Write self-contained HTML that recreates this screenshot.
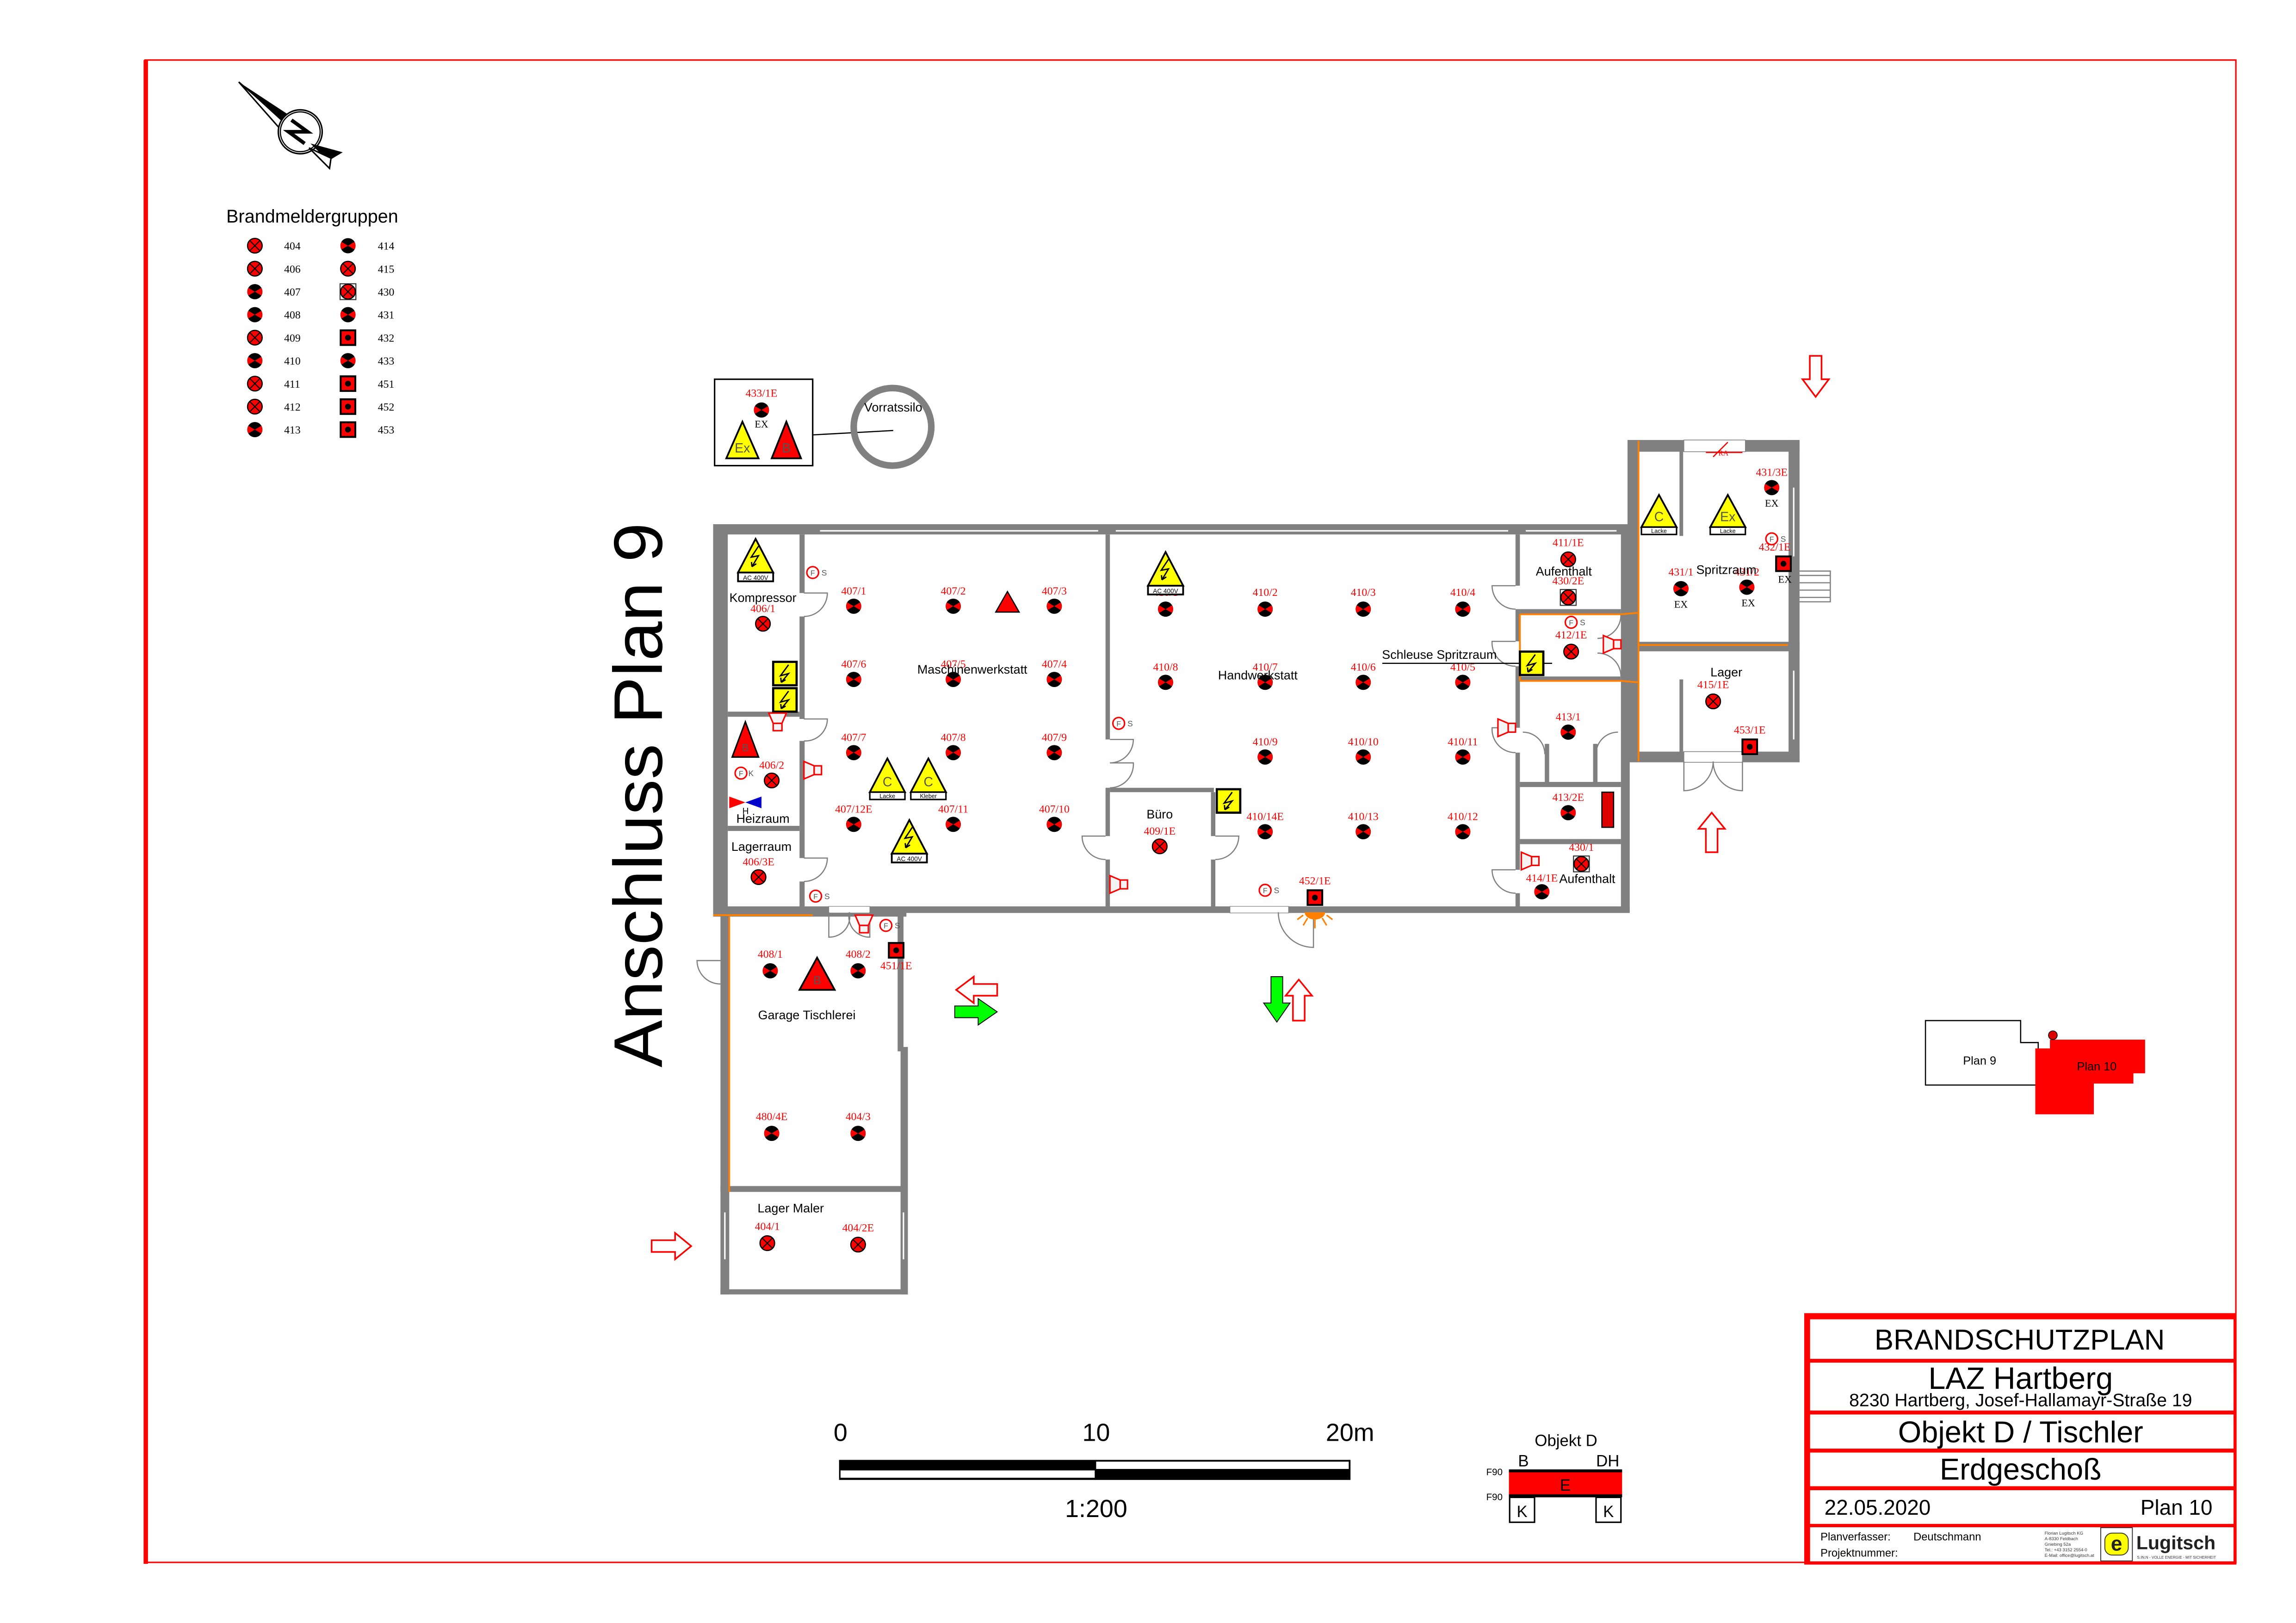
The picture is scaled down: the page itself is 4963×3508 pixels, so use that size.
<!DOCTYPE html>
<html><head><meta charset="utf-8"><style>html,body{margin:0;padding:0;background:#fff}svg{display:block}</style></head><body>
<svg xmlns="http://www.w3.org/2000/svg" width="4963" height="3508" viewBox="0 0 1568 1108.4" font-family="Liberation Sans, sans-serif">
<defs>
<g id="a"><circle r="5" fill="#f00" stroke="#000" stroke-width=".8"/><path d="M-3.5-3.5L3.5 3.5M3.5-3.5L-3.5 3.5" stroke="#000" stroke-width=".7"/></g>
<g id="b"><circle r="5.2" fill="#000"/><path d="M0 0L-4.4-2.6A5.1 5.1 0 0 0-4.4 2.6ZM0 0L4.4-2.6A5.1 5.1 0 0 1 4.4 2.6Z" fill="#f00"/></g>
<g id="c"><rect x="-5" y="-5" width="10" height="10" fill="#f00" stroke="#000" stroke-width="1.3"/><circle r="2" fill="#000"/></g>
<g id="d"><rect x="-5.4" y="-5.4" width="10.8" height="10.8" fill="none" stroke="#333" stroke-width=".7"/><use href="#a"/></g>
<g id="yb"><rect x="-8" y="-8" width="16" height="16" fill="#ff0" stroke="#000" stroke-width="1.5"/><path d="M2.5-6L-3 1.5L2.5 0L-2.5 6M-2.5 6L-2.8 2.8M-2.5 6L0.5 4.2" fill="none" stroke="#000" stroke-width=".9"/></g>
<g id="hn"><path d="M-7-6L0-3V3L-7 6Z" fill="#f4f4f4" stroke="#f00" stroke-width="1"/><rect x="0" y="-3" width="5" height="6" fill="#f4f4f4" stroke="#f00" stroke-width="1"/></g>
<g id="f"><circle r="4" fill="#fff" stroke="#f00" stroke-width="1"/><text y="2" font-size="5" text-anchor="middle" fill="#555">F</text></g>
<g id="ac"><path d="M0-13L12 10H-12Z" fill="#ff0" stroke="#000" stroke-width="1.2"/><path d="M2-8L-3-0.5L2-1.5L-2.5 6M-2.5 6L-2.8 2.8M-2.5 6L0.5 4" fill="none" stroke="#000" stroke-width=".9"/><rect x="-12" y="10" width="24" height="6" fill="#fff" stroke="#000" stroke-width="1.2"/><text y="15" font-size="4.3" text-anchor="middle">AC 400V</text></g>
</defs>

<rect x="99" y="41" width="1428" height="1026" fill="none" stroke="#f00" stroke-width="1"/>
<rect x="98" y="41" width="3" height="1027" fill="#f00"/>

<g>
<path d="M163 56L198 86L193 90Z" fill="#fff" stroke="#000" stroke-width="1"/>
<path d="M163 56L201 81L197 87Z" fill="#000"/>
<circle cx="205" cy="90" r="15" fill="#fff" stroke="#000" stroke-width="1"/>
<circle cx="205" cy="90" r="13.6" fill="none" stroke="#000" stroke-width="0.8"/>
<path d="M212 98L234 104L224 110Z" fill="#000"/>
<path d="M211 101L225 115L226 108Z" fill="#fff" stroke="#000" stroke-width="1"/>
<path d="M199 82L210 90L197 90L208 98" fill="none" stroke="#000" stroke-width="2.5"/>
</g>

<text x="154.5" y="152" font-size="12.5">Brandmeldergruppen</text>
<g font-family="Liberation Serif, serif" font-size="7.5">
<use href="#a" x="174" y="167.8"/><text x="194" y="170.5">404</text>
<use href="#a" x="174" y="183.5"/><text x="194" y="186.2">406</text>
<use href="#b" x="174" y="199.2"/><text x="194" y="201.9">407</text>
<use href="#b" x="174" y="214.9"/><text x="194" y="217.6">408</text>
<use href="#a" x="174" y="230.6"/><text x="194" y="233.3">409</text>
<use href="#b" x="174" y="246.3"/><text x="194" y="249">410</text>
<use href="#a" x="174" y="262"/><text x="194" y="264.7">411</text>
<use href="#a" x="174" y="277.7"/><text x="194" y="280.4">412</text>
<use href="#b" x="174" y="293.4"/><text x="194" y="296.1">413</text>
<use href="#b" x="237.6" y="167.8"/><text x="258" y="170.5">414</text>
<use href="#a" x="237.6" y="183.5"/><text x="258" y="186.2">415</text>
<use href="#d" x="237.6" y="199.2"/><text x="258" y="201.9">430</text>
<use href="#b" x="237.6" y="214.9"/><text x="258" y="217.6">431</text>
<use href="#c" x="237.6" y="230.6"/><text x="258" y="233.3">432</text>
<use href="#b" x="237.6" y="246.3"/><text x="258" y="249">433</text>
<use href="#c" x="237.6" y="262"/><text x="258" y="264.7">451</text>
<use href="#c" x="237.6" y="277.7"/><text x="258" y="280.4">452</text>
<use href="#c" x="237.6" y="293.4"/><text x="258" y="296.1">453</text>
</g>

<rect x="488" y="259" width="67" height="59" fill="#fff" stroke="#000" stroke-width="1"/>
<text x="520" y="271" font-family="Liberation Serif, serif" font-size="7.5" fill="#f00" text-anchor="middle">433/1E</text>
<use href="#b" x="520" y="280"/>
<text x="520" y="292" font-family="Liberation Serif, serif" font-size="7" text-anchor="middle">EX</text>
<path d="M507 288L518 313H496Z" fill="#ff0" stroke="#000" stroke-width="1.2"/>
<text x="507" y="309" font-size="9" fill="#555" text-anchor="middle">Ex</text>
<path d="M537 288L547 313H527Z" fill="#f00" stroke="#000" stroke-width="1.2"/>
<text x="537" y="309" font-size="9" fill="#555" text-anchor="middle">B</text>
<path d="M555 297L610 294" stroke="#000" stroke-width=".8"/>
<circle cx="609.5" cy="291.5" r="26.5" fill="none" stroke="#808080" stroke-width="4.5"/>
<text x="610" y="281" font-size="8.5" text-anchor="middle">Vorratssilo</text>

<text transform="translate(452 543) rotate(-90)" font-size="47" text-anchor="middle" textLength="372" lengthAdjust="spacingAndGlyphs">Anschluss Plan 9</text>

<g fill="#808080">
<rect x="487" y="358" width="626" height="7"/>
<rect x="487" y="358" width="10" height="267"/>
<rect x="546" y="365" width="3.5" height="40"/>
<rect x="546" y="421" width="3.5" height="70"/>
<rect x="546" y="506" width="3.5" height="80"/>
<rect x="546" y="602" width="3.5" height="20"/>
<rect x="497" y="486" width="49" height="3.5"/>
<rect x="497" y="564" width="49" height="3.5"/>
<rect x="487" y="619" width="626" height="4.5"/>
<rect x="755" y="365" width="3" height="140"/>
<rect x="755" y="538" width="3" height="33"/>
<rect x="755" y="587" width="3" height="33"/>
<rect x="758" y="538" width="71" height="3"/>
<rect x="827" y="541" width="3" height="30"/>
<rect x="827" y="587" width="3" height="33"/>
<rect x="1035" y="365" width="3" height="35"/>
<rect x="1035" y="416" width="3" height="22"/>
<rect x="1035" y="455" width="3" height="42"/>
<rect x="1035" y="514" width="3" height="80"/>
<rect x="1035" y="610" width="3" height="10"/>
<rect x="1107" y="361" width="6" height="262"/>
<rect x="1038" y="416" width="69" height="3.5"/>
<rect x="1038" y="462" width="69" height="3.5"/>
<rect x="1038" y="534" width="69" height="3.5"/>
<rect x="1038" y="573" width="69" height="3.5"/>
<rect x="1055" y="508" width="3" height="27"/>
<rect x="1088" y="508" width="3" height="27"/>
<rect x="1111.5" y="300.5" width="117.5" height="8"/>
<rect x="1111.5" y="300.5" width="7.5" height="220"/>
<rect x="1221.5" y="300.5" width="7.5" height="220"/>
<rect x="1111.5" y="513.3" width="117.5" height="7.3"/>
<rect x="1113" y="438.3" width="116" height="6.5"/>
<rect x="1147" y="308" width="2.5" height="58"/>
<rect x="1147" y="464" width="2.5" height="50"/>
<rect x="492" y="622" width="6" height="262"/>
<rect x="487" y="622" width="132" height="4"/>
<rect x="613" y="622" width="4" height="96"/>
<rect x="615" y="715" width="5" height="169"/>
<rect x="492" y="810" width="128" height="4"/>
<rect x="492" y="880.5" width="128" height="3.5"/>
</g>
<g stroke="#fff" stroke-width="1">
<path d="M560 362.5H750M762 362.5H1030M1042 362.5H1104M1150 304H1192M1225 333V380M1225 458V505M495 828V860M617 828V860"/>
</g>
<rect x="1150" y="300.5" width="42" height="8" fill="#fff" stroke="#808080" stroke-width=".5"/>
<rect x="840" y="619" width="40" height="4.5" fill="#fff" stroke="#808080" stroke-width=".4"/>
<rect x="566" y="619" width="28" height="4.5" fill="#fff" stroke="#808080" stroke-width=".4"/>
<rect x="1150" y="513.3" width="40" height="7.3" fill="#fff" stroke="#808080" stroke-width=".5"/>

<g stroke="#ff8000" stroke-width="1.2" fill="none">
<path d="M487 625H555"/>
<path d="M498 626V814"/>
<path d="M1119 301V520"/>
<path d="M1119 440.5H1221"/>
<path d="M1038 419.5H1107L1119 418.5M1038 465H1107L1119 466"/>
<path d="M1038 419.5V465"/>
</g>

<g fill="none" stroke="#808080" stroke-width=".8">
<path d="M549 405H565A16 16 0 0 1 549 421"/>
<path d="M549 491H565A15 15 0 0 1 549 506"/>
<path d="M549 586H565A16 16 0 0 1 549 602"/>
<path d="M758 505H774A16 16 0 0 1 758 521M758 521H774A16 16 0 0 1 758 538"/>
<path d="M755 571H739A16 16 0 0 0 755 587"/>
<path d="M830 571H846A16 16 0 0 1 830 587"/>
<path d="M1035 400H1019A16 16 0 0 0 1035 416"/>
<path d="M1035 438H1019A16 16 0 0 0 1035 455"/>
<path d="M1035 497H1019A16 16 0 0 0 1035 514"/>
<path d="M1035 594H1019A16 16 0 0 0 1035 610"/>
<path d="M566 623V640A14 14 0 0 0 580 623M594 623V640A14 14 0 0 1 580 623"/>
<path d="M492 656H476A16 16 0 0 0 492 672"/>
<path d="M1107 420A16 16 0 0 1 1091 436M1107 462A16 16 0 0 0 1091 446"/>
<path d="M1150 520V540A20 20 0 0 0 1170 520M1190 520V540A20 20 0 0 1 1170 520"/>
<path d="M873 623A24 24 0 0 0 897 647V623"/>
<path d="M1040 500A15 15 0 0 1 1055 515M1105 500A15 15 0 0 0 1090 515"/>
<path d="M1229 390H1250V411H1229M1229 393H1250M1229 398H1250M1229 403H1250M1229 408H1250"/>
</g>

<g font-family="Liberation Serif, serif" font-size="7.5" fill="#f00" text-anchor="middle">
<text x="521" y="418">406/1</text>
<text x="527" y="525">406/2</text>
<text x="518" y="591">406/3E</text>
<text x="583" y="406">407/1</text><text x="651" y="406">407/2</text><text x="720" y="406">407/3</text>
<text x="583" y="456">407/6</text><text x="651" y="456">407/5</text><text x="720" y="456">407/4</text>
<text x="583" y="506">407/7</text><text x="651" y="506">407/8</text><text x="720" y="506">407/9</text>
<text x="583" y="555">407/12E</text><text x="651" y="555">407/11</text><text x="720" y="555">407/10</text>
<text x="796" y="407">410/1</text><text x="864" y="407">410/2</text><text x="931" y="407">410/3</text><text x="999" y="407">410/4</text>
<text x="796" y="458">410/8</text><text x="864" y="458">410/7</text><text x="931" y="458">410/6</text><text x="999" y="458">410/5</text>
<text x="864" y="509">410/9</text><text x="931" y="509">410/10</text><text x="999" y="509">410/11</text>
<text x="864" y="560">410/14E</text><text x="931" y="560">410/13</text><text x="999" y="560">410/12</text>
<text x="792" y="570">409/1E</text>
<text x="898" y="604">452/1E</text>
<text x="1071" y="373">411/1E</text>
<text x="1071" y="399">430/2E</text>
<text x="1073" y="436">412/1E</text>
<text x="1071" y="492">413/1</text>
<text x="1071" y="547">413/2E</text>
<text x="1080" y="581">430/1</text>
<text x="1053" y="602">414/1E</text>
<text x="1210" y="325">431/3E</text>
<text x="1212" y="376">432/1E</text>
<text x="1148" y="393">431/1</text>
<text x="1193" y="393">431/2</text>
<text x="1170" y="470">415/1E</text>
<text x="1195" y="501">453/1E</text>
<text x="1177" y="311" font-size="5">RA</text>
<text x="526" y="654">408/1</text><text x="586" y="654">408/2</text>
<text x="612" y="662">451/1E</text>
<text x="527" y="765">480/4E</text><text x="586" y="765">404/3</text>
<text x="524" y="840">404/1</text><text x="586" y="841">404/2E</text>
</g>
<g>
<use href="#a" x="521" y="426"/>
<use href="#a" x="527" y="533"/>
<use href="#a" x="518" y="599"/>
<use href="#b" x="583" y="414"/><use href="#b" x="651" y="414"/><use href="#b" x="720" y="414"/>
<use href="#b" x="583" y="464"/><use href="#b" x="651" y="464"/><use href="#b" x="720" y="464"/>
<use href="#b" x="583" y="514"/><use href="#b" x="651" y="514"/><use href="#b" x="720" y="514"/>
<use href="#b" x="583" y="563"/><use href="#b" x="651" y="563"/><use href="#b" x="720" y="563"/>
<use href="#b" x="796" y="416"/><use href="#b" x="864" y="416"/><use href="#b" x="931" y="416"/><use href="#b" x="999" y="416"/>
<use href="#b" x="796" y="466"/><use href="#b" x="864" y="466"/><use href="#b" x="931" y="466"/><use href="#b" x="999" y="466"/>
<use href="#b" x="864" y="517"/><use href="#b" x="931" y="517"/><use href="#b" x="999" y="517"/>
<use href="#b" x="864" y="568"/><use href="#b" x="931" y="568"/><use href="#b" x="999" y="568"/>
<use href="#a" x="792" y="578"/>
<use href="#c" x="898" y="613"/>
<use href="#a" x="1071" y="382"/>
<use href="#d" x="1071" y="408"/>
<use href="#a" x="1073" y="445"/>
<use href="#b" x="1071" y="500"/>
<use href="#b" x="1071" y="555"/>
<use href="#d" x="1080" y="590"/>
<use href="#b" x="1053" y="609"/>
<use href="#b" x="1210" y="333"/>
<use href="#c" x="1218" y="385"/>
<use href="#b" x="1148" y="402"/>
<use href="#b" x="1193" y="401"/>
<use href="#a" x="1170" y="479"/>
<use href="#c" x="1195" y="510"/>
<use href="#b" x="526" y="663"/><use href="#b" x="586" y="663"/>
<use href="#c" x="612" y="649"/>
<use href="#b" x="527" y="774"/><use href="#b" x="586" y="774"/>
<use href="#a" x="524" y="849"/><use href="#a" x="586" y="850"/>
</g>

<g font-family="Liberation Serif, serif" font-size="7" text-anchor="middle">
<text x="1210" y="346">EX</text><text x="1219" y="398">EX</text>
<text x="1148" y="415">EX</text><text x="1194" y="414">EX</text>
</g>

<g font-size="8.5" text-anchor="middle">
<text x="521" y="411">Kompressor</text>
<text x="521" y="562">Heizraum</text>
<text x="520" y="581">Lagerraum</text>
<text x="664" y="460">Maschinenwerkstatt</text>
<text x="859" y="464">Handwerkstatt</text>
<text x="792" y="559">Büro</text>
<text x="1068" y="393">Aufenthalt</text>
<text x="1084" y="603">Aufenthalt</text>
<text x="1179" y="392">Spritzraum</text>
<text x="1179" y="462">Lager</text>
<text x="551" y="696">Garage Tischlerei</text>
<text x="540" y="828">Lager Maler</text>
<text x="983" y="450">Schleuse Spritzraum</text>
</g>
<path d="M944 453H1053" stroke="#000" stroke-width=".8"/>

<use href="#ac" x="516" y="381"/>
<use href="#ac" x="796" y="390"/>
<use href="#ac" x="621" y="573"/>
<g>
<path d="M606 518L618 541H594Z" fill="#ff0" stroke="#000" stroke-width="1.2"/><text x="606" y="537" font-size="9" fill="#555" text-anchor="middle">C</text>
<rect x="594" y="541" width="24" height="5" fill="#fff" stroke="#000" stroke-width="1"/><text x="606" y="545" font-size="4" text-anchor="middle">Lacke</text>
<path d="M634 518L646 541H622Z" fill="#ff0" stroke="#000" stroke-width="1.2"/><text x="634" y="537" font-size="9" fill="#555" text-anchor="middle">C</text>
<rect x="622" y="541" width="24" height="5" fill="#fff" stroke="#000" stroke-width="1"/><text x="634" y="545" font-size="4" text-anchor="middle">Kleber</text>
<path d="M1133 338L1145 360H1121Z" fill="#ff0" stroke="#000" stroke-width="1.2"/><text x="1133" y="356" font-size="9" fill="#555" text-anchor="middle">C</text>
<rect x="1121" y="360" width="24" height="5" fill="#fff" stroke="#000" stroke-width="1"/><text x="1133" y="364" font-size="4" text-anchor="middle">Lacke</text>
<path d="M1180 338L1192 360H1168Z" fill="#ff0" stroke="#000" stroke-width="1.2"/><text x="1180" y="356" font-size="9" fill="#555" text-anchor="middle">Ex</text>
<rect x="1168" y="360" width="24" height="5" fill="#fff" stroke="#000" stroke-width="1"/><text x="1180" y="364" font-size="4" text-anchor="middle">Lacke</text>
<path d="M688 404L696 418H680Z" fill="#f00" stroke="#000" stroke-width=".8"/>
<path d="M509 493L518 517H500Z" fill="#f00" stroke="#000" stroke-width="1"/><text x="509" y="513" font-size="7" fill="#555" text-anchor="middle">B</text>
<path d="M558 654L570 676H546Z" fill="#f00" stroke="#000" stroke-width="1.2"/><text x="558" y="672" font-size="8" fill="#555" text-anchor="middle">B</text>
</g>
<use href="#yb" x="536" y="460"/>
<use href="#yb" x="536" y="478"/>
<use href="#yb" x="839" y="547"/>
<path d="M1030 453H1038M1054 453H1060" stroke="#000" stroke-width=".8"/>
<use href="#yb" x="1046" y="453"/>
<rect x="1094" y="541" width="8" height="24" fill="#d00" stroke="#000" stroke-width=".8"/>

<g font-size="5.5" fill="#555">
<use href="#f" x="555" y="391"/><text x="561" y="393">S</text>
<use href="#f" x="506" y="528"/><text x="511" y="530">K</text>
<use href="#f" x="557" y="612"/><text x="563" y="614">S</text>
<use href="#f" x="764" y="494"/><text x="770" y="496">S</text>
<use href="#f" x="864" y="608"/><text x="870" y="610">S</text>
<use href="#f" x="1073" y="425"/><text x="1079" y="427">S</text>
<use href="#f" x="1210" y="368"/><text x="1216" y="370">S</text>
<use href="#f" x="605" y="632"/><text x="611" y="634">S</text>
</g>
<use href="#hn" transform="translate(531 494) rotate(90)"/>
<use href="#hn" transform="translate(556 526)"/>
<use href="#hn" transform="translate(765 604)"/>
<use href="#hn" transform="translate(1030 497)"/>
<use href="#hn" transform="translate(1102 440)"/>
<use href="#hn" transform="translate(1046 588)"/>
<use href="#hn" transform="translate(590 632) rotate(90)"/>
<path d="M498 544L509 548L498 552Z" fill="#f00"/>
<path d="M520 544L509 548L520 552Z" fill="#00c"/>
<text x="507" y="556" font-size="6">H</text>
<g stroke="#ff8000" stroke-width="1"><path d="M898 628V634M893 627L890 632M903 627L906 632M890 625L886 628M906 625L910 628"/></g>
<path d="M891 623H905A7 5 0 0 1 891 623Z" fill="#ff8000"/>
<path d="M1165 309L1190 309M1170 312L1180 302" stroke="#f00" stroke-width=".8"/>

<g stroke-width="1.1" stroke-linejoin="miter">
<path d="M1236 243H1244V259H1249L1240 271L1231 259H1236Z" fill="#fff" stroke="#f00"/>
<path d="M1165 582H1173V566H1178L1169 555L1160 566H1165Z" fill="#fff" stroke="#f00"/>
<path d="M445 847V855H461V860L472 851L461 842V847Z" fill="#fff" stroke="#f00"/>
<path d="M681 672V680H665V685L653 676L665 667V672Z" fill="#fff" stroke="#f00"/>
<path d="M652 687V695H668V700L681 691L668 682V687Z" fill="#0f0" stroke="#000" stroke-width=".6"/>
<path d="M868 667H876V685H881L872 698L863 685H868Z" fill="#0f0" stroke="#000" stroke-width=".6"/>
<path d="M883 697H891V680H896L887 669L878 680H883Z" fill="#fff" stroke="#f00"/>
</g>

<path d="M1315 697H1380V712H1392V741H1315Z" fill="#fff" stroke="#000" stroke-width=".8"/>
<text x="1352" y="727" font-size="8" text-anchor="middle">Plan 9</text>
<path d="M1390 716H1400V710H1456V710H1465V733H1457V740H1430V761H1390Z" fill="#f00"/>
<circle cx="1402" cy="707" r="3" fill="#d00" stroke="#000" stroke-width=".5"/>
<text x="1432" y="731" font-size="8" text-anchor="middle">Plan 10</text>

<g font-size="17" text-anchor="middle">
<text x="574" y="984">0</text><text x="748.6" y="984">10</text><text x="922" y="984">20m</text>
<text x="748.6" y="1036">1:200</text>
</g>
<rect x="573" y="997" width="349.3" height="13.7" fill="#000"/>
<rect x="748.6" y="998.2" width="172.5" height="5" fill="#fff"/>
<rect x="574" y="1004.2" width="173.6" height="5" fill="#fff"/>

<text x="1069.5" y="987.5" font-size="11" text-anchor="middle">Objekt D</text>
<text x="1040.4" y="1001.5" font-size="11" text-anchor="middle">B</text>
<text x="1098" y="1001.5" font-size="11" text-anchor="middle">DH</text>
<text x="1015" y="1007.5" font-size="6.5">F90</text>
<text x="1015" y="1024.5" font-size="6.5">F90</text>
<rect x="1030.5" y="1004.2" width="77.3" height="18.4" fill="#f00"/>
<rect x="1030.5" y="1003.5" width="77.3" height="2" fill="#000"/>
<rect x="1030.5" y="1020.5" width="77.3" height="2" fill="#000"/>
<text x="1069" y="1018" font-size="11" text-anchor="middle">E</text>
<rect x="1031" y="1022.6" width="17" height="17" fill="#fff" stroke="#000" stroke-width="1"/>
<rect x="1090" y="1022.6" width="17" height="17" fill="#fff" stroke="#000" stroke-width="1"/>
<text x="1039.5" y="1036" font-size="11" text-anchor="middle">K</text>
<text x="1098.5" y="1036" font-size="11" text-anchor="middle">K</text>

<rect x="1232.2" y="896.8" width="295.2" height="171.7" fill="#f00"/>
<g fill="#fff">
<rect x="1236.2" y="901" width="289.2" height="27"/>
<rect x="1236.2" y="930.6" width="289.2" height="32.7"/>
<rect x="1236.2" y="966" width="289.2" height="23.3"/>
<rect x="1236.2" y="992" width="289.2" height="23"/>
<rect x="1236.2" y="1017.7" width="289.2" height="23"/>
<rect x="1236.2" y="1043" width="289.2" height="23.3"/>
</g>
<g text-anchor="middle">
<text x="1379.3" y="921.6" font-size="19.5">BRANDSCHUTZPLAN</text>
<text x="1380" y="948.5" font-size="21">LAZ Hartberg</text>
<text x="1380" y="960.3" font-size="12.4">8230 Hartberg, Josef-Hallamayr-Straße 19</text>
<text x="1380" y="985" font-size="20.5">Objekt D / Tischler</text>
<text x="1380" y="1010.4" font-size="20.5">Erdgeschoß</text>
</g>
<text x="1246" y="1034.4" font-size="14.5">22.05.2020</text>
<text x="1511" y="1034.4" font-size="14.5" text-anchor="end">Plan 10</text>
<text x="1243.3" y="1052" font-size="7.5">Planverfasser:</text>
<text x="1306.8" y="1052" font-size="7.5">Deutschmann</text>
<text x="1243.3" y="1063" font-size="7.5">Projektnummer:</text>
<g font-size="3" fill="#333">
<text x="1396.4" y="1048">Florian Lugitsch KG</text>
<text x="1396.4" y="1051.8">A-8330 Feldbach</text>
<text x="1396.4" y="1055.6">Gniebing 52a</text>
<text x="1396.4" y="1059.4">Tel.: +43 3152 2554-0</text>
<text x="1396.4" y="1063.2">E-Mail: office@lugitsch.at</text>
</g>
<rect x="1434.7" y="1043.3" width="21.6" height="22.7" fill="#fff" stroke="#333" stroke-width=".6"/>
<rect x="1437.5" y="1047" width="16" height="15" rx="5" fill="#ff0" stroke="#333" stroke-width=".6"/>
<text x="1445.5" y="1059" font-size="14" font-weight="bold" text-anchor="middle" fill="#222">e</text>
<text x="1459" y="1058" font-size="13" font-weight="bold" fill="#222">Lugitsch</text>
<text x="1459.5" y="1064.5" font-size="2.6" fill="#333">S.IN.N - VOLLE ENERGIE - MIT SICHERHEIT</text>
</svg>
</body></html>
